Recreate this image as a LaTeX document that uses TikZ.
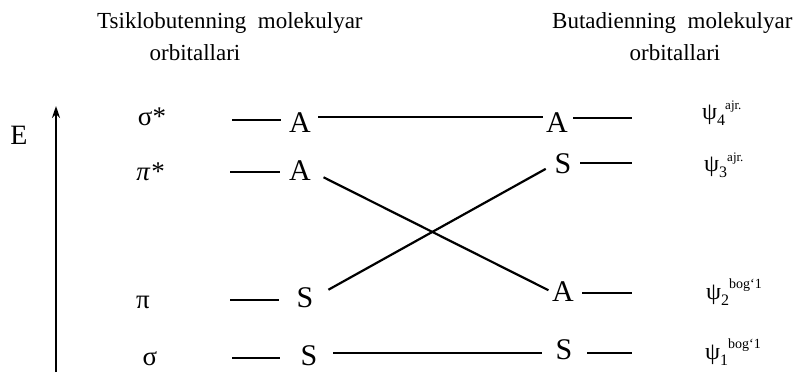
\documentclass[tikz,border=0pt]{standalone}
\usepackage{fontspec}
\setmainfont{Liberation Serif}
\usetikzlibrary{arrows.meta}
\begin{document}
\begin{tikzpicture}[x=1pt,y=-1pt,
  lvl/.style={inner sep=0pt, font=\fontsize{30}{30}\selectfont},
  ttl/.style={inner sep=0pt, font=\fontsize{23}{27}\selectfont},
  gk/.style={inner sep=0pt, font=\fontsize{27}{27}\selectfont},
  psi/.style={inner sep=0pt, anchor=base west, font=\fontsize{24}{24}\selectfont},
  ln/.style={line width=2.2pt},
  ]
\useasboundingbox (0,0) rectangle (810,372);
% titles
\node[ttl, anchor=base west] (t1) at (97,28) {Tsiklobutenning\ \ molekulyar};
\node[ttl, anchor=base] (t2) at (195,60) {orbitallari};
\node[ttl, anchor=base west] (t3) at (552,28) {Butadienning\ \ molekulyar};
\node[ttl, anchor=base] (t4) at (675,60) {orbitallari};
% energy axis
\node[inner sep=0pt, font=\fontsize{28}{28}\selectfont] (E) at (19,135) {E};
\coordinate (ax0) at (56,372);
\coordinate (ax1) at (56,106);
\draw[line width=2.4pt, -{Stealth[length=12pt,width=8pt]}] (ax0) -- (ax1);
% left symbols
\node[gk] (g1) at (152,117) {σ*};
\node[gk,font=\fontsize{27}{27}\selectfont\itshape] (g2) at (150,172) {π*};
\node[gk] (g3) at (143,302) {π};
\node[gk] (g4) at (150,359) {σ};
% left levels
\node[lvl] (A1L) at (300,123) {A};
\node[lvl] (A2L) at (300,171) {A};
\node[lvl] (S3L) at (305,298) {S};
\node[lvl] (S4L) at (309,356) {S};
% right levels
\node[lvl] (B1R) at (557,123) {A};
\node[lvl] (S2R) at (563,164) {S};
\node[lvl] (A3R) at (563,292) {A};
\node[lvl] (S4R) at (564,350) {S};
% left short lines
\coordinate (cl1) at (232,120);
\coordinate (cl2) at (230,172);
\coordinate (cl3) at (230,300);
\coordinate (cl4) at (232,358);
\draw[ln, shorten >=8pt] (cl1) -- (cl1 -| A1L.west);
\draw[ln, shorten >=9pt] (cl2) -- (cl2 -| A2L.west);
\draw[ln, shorten >=17pt] (cl3) -- (cl3 -| S3L.west);
\draw[ln, shorten >=20pt] (cl4) -- (cl4 -| S4L.west);
% right short lines
\coordinate (cr1) at (632,118);
\coordinate (cr2) at (632,163);
\coordinate (cr3) at (632,293);
\coordinate (cr4) at (632,353);
\draw[ln, shorten <=5pt] (B1R.east |- cr1) -- (cr1);
\draw[ln, shorten <=8.5pt] (S2R.east |- cr2) -- (cr2);
\draw[ln, shorten <=8pt] (A3R.east |- cr3) -- (cr3);
\draw[ln, shorten <=14.5pt] (S4R.east |- cr4) -- (cr4);
% correlation lines
\coordinate (h1) at (0,117);
\coordinate (h4) at (0,353);
\draw[ln, shorten <=7pt, shorten >=3pt] (A1L.east |- h1) -- (B1R.west |- h1);
\draw[ln, shorten <=15.5pt, shorten >=13.5pt] (S4L.east |- h4) -- (S4R.west |- h4);
\draw[ln, shorten <=14pt, shorten >=4pt] (A2L.east) -- (A3R.west);
\draw[ln, shorten <=17pt, shorten >=10pt] (S3L.east) -- (S2R.west);
% psi labels
\node[psi] (p4) at (702,119) {ψ\raisebox{-6pt}{\fontsize{16}{16}\selectfont 4}\raisebox{10pt}{\fontsize{13}{13}\selectfont ajr.}};
\node[psi] (p3) at (704,171) {ψ\raisebox{-6pt}{\fontsize{16}{16}\selectfont 3}\raisebox{10pt}{\fontsize{13}{13}\selectfont ajr.}};
\node[psi] (p2) at (706,299) {ψ\raisebox{-6pt}{\fontsize{16}{16}\selectfont 2}\raisebox{11pt}{\fontsize{14}{14}\selectfont bog‘1}};
\node[psi] (p1) at (705,359) {ψ\raisebox{-6pt}{\fontsize{16}{16}\selectfont 1}\raisebox{11pt}{\fontsize{14}{14}\selectfont bog‘1}};
\end{tikzpicture}
\end{document}
